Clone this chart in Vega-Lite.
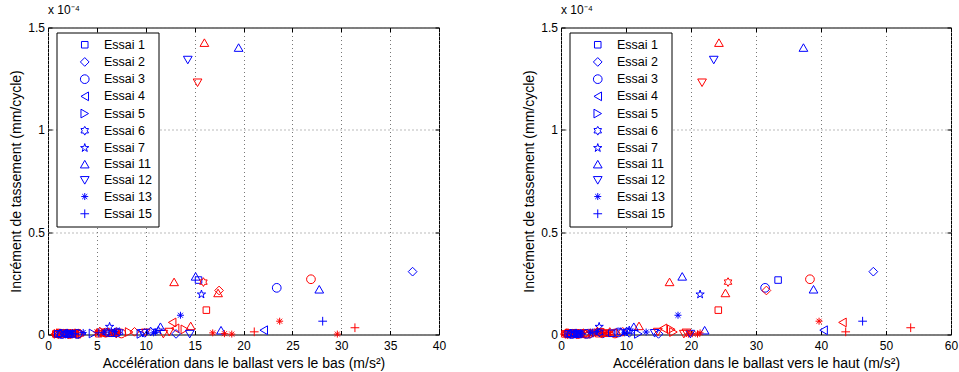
{
  "$schema": "https://vega.github.io/schema/vega-lite/v6.json",
  "padding": {"left": 9, "top": 2.5, "right": 5, "bottom": 0},
  "config": {
    "font": "Liberation Sans",
    "view": {"stroke": "black", "strokeWidth": 1},
    "concat": {"spacing": 75},
    "axis": {
      "grid": true, "gridColor": "#777", "gridDash": [1, 3], "gridWidth": 1,
      "domain": false, "ticks": true, "tickSize": -4, "tickColor": "black",
      "labelPadding": 7.5, "labelFontSize": 12, "labelColor": "black", "labelFlush": false,
      "titleFontSize": 14, "titleFontWeight": "normal", "titleColor": "black", "titlePadding": 4
    },
    "axisX": {"labelPadding": 9.5, "titlePadding": 5},
    "title": {"fontSize": 12, "fontWeight": "normal", "anchor": "start", "frame": "group", "offset": 5, "color": "black"}
  },
  "data": {"values": [
    {"e":"Essai 11","c":"r","bas":16.0,"haut":24.3,"y":1.426},
    {"e":"Essai 11","c":"b","bas":19.5,"haut":37.3,"y":1.402},
    {"e":"Essai 12","c":"b","bas":14.3,"haut":23.5,"y":1.341},
    {"e":"Essai 12","c":"r","bas":15.3,"haut":21.7,"y":1.23},
    {"e":"Essai 2","c":"b","bas":37.3,"haut":48.05,"y":0.307},
    {"e":"Essai 11","c":"b","bas":15.1,"haut":18.65,"y":0.284},
    {"e":"Essai 3","c":"r","bas":26.9,"haut":38.3,"y":0.27},
    {"e":"Essai 1","c":"b","bas":15.4,"haut":33.4,"y":0.266},
    {"e":"Essai 11","c":"r","bas":12.9,"haut":16.7,"y":0.257},
    {"e":"Essai 6","c":"r","bas":15.9,"haut":25.7,"y":0.256},
    {"e":"Essai 3","c":"b","bas":23.4,"haut":31.4,"y":0.228},
    {"e":"Essai 11","c":"b","bas":27.75,"haut":38.85,"y":0.221},
    {"e":"Essai 2","c":"r","bas":17.5,"haut":31.6,"y":0.215},
    {"e":"Essai 11","c":"r","bas":17.4,"haut":25.3,"y":0.203},
    {"e":"Essai 7","c":"b","bas":15.7,"haut":21.4,"y":0.196},
    {"e":"Essai 1","c":"r","bas":16.2,"haut":24.2,"y":0.119},
    {"e":"Essai 13","c":"b","bas":13.55,"haut":18.0,"y":0.094},
    {"e":"Essai 13","c":"r","bas":23.7,"haut":39.7,"y":0.065},
    {"e":"Essai 15","c":"b","bas":28.1,"haut":46.4,"y":0.065},
    {"e":"Essai 4","c":"r","bas":12.7,"haut":43.3,"y":0.059},
    {"e":"Essai 15","c":"r","bas":31.4,"haut":53.8,"y":0.033},
    {"e":"Essai 4","c":"b","bas":22.07,"haut":40.4,"y":0.021},
    {"e":"Essai 15","c":"r","bas":21.1,"haut":43.8,"y":0.013},
    {"e":"Essai 11","c":"b","bas":17.7,"haut":22.1,"y":0.021},
    {"e":"Essai 11","c":"r","bas":14.6,"haut":12.0,"y":0.042},
    {"e":"Essai 5","c":"r","bas":14.0,"haut":16.97,"y":0.025},
    {"e":"Essai 4","c":"r","bas":13.0,"haut":15.7,"y":0.03},
    {"e":"Essai 13","c":"r","bas":16.85,"haut":21.4,"y":0.008},
    {"e":"Essai 13","c":"r","bas":18.05,"haut":20.2,"y":0.004},
    {"e":"Essai 13","c":"r","bas":29.6,"haut":21.0,"y":0.002},
    {"e":"Essai 13","c":"r","bas":18.8,"haut":19.6,"y":0.002},
    {"e":"Essai 12","c":"b","bas":14.5,"haut":19.9,"y":0.002},
    {"e":"Essai 2","c":"b","bas":13.1,"haut":15.0,"y":0.003},
    {"e":"Essai 12","c":"b","bas":9.7,"haut":14.4,"y":0.006},
    {"e":"Essai 12","c":"r","bas":11.8,"haut":18.9,"y":0.002},
    {"e":"Essai 12","c":"r","bas":10.0,"haut":19.3,"y":0.008},
    {"e":"Essai 12","c":"r","bas":12.4,"haut":14.9,"y":0.012},
    {"e":"Essai 11","c":"b","bas":11.5,"haut":11.2,"y":0.038},
    {"e":"Essai 7","c":"b","bas":6.3,"haut":5.87,"y":0.038},
    {"e":"Essai 5","c":"r","bas":8.3,"haut":17.3,"y":0.012},
    {"e":"Essai 2","c":"r","bas":8.85,"haut":9.5,"y":0.013},
    {"e":"Essai 13","c":"b","bas":11.0,"haut":13.1,"y":0.012},
    {"e":"Essai 13","c":"b","bas":10.8,"haut":9.8,"y":0.008},
    {"e":"Essai 6","c":"b","bas":10.5,"haut":10.1,"y":0.015},
    {"e":"Essai 7","c":"b","bas":11.3,"haut":10.5,"y":0.02},
    {"e":"Essai 5","c":"b","bas":4.6,"haut":7.0,"y":0.005},
    {"e":"Essai 5","c":"b","bas":3.5,"haut":5.0,"y":0.003},
    {"e":"Essai 5","c":"b","bas":9.5,"haut":11.9,"y":0.003},
    {"e":"Essai 1","c":"r","bas":0.8,"haut":0.6,"y":0.003},
    {"e":"Essai 1","c":"r","bas":1.5,"haut":1.4,"y":0.004},
    {"e":"Essai 1","c":"r","bas":2.6,"haut":3.1,"y":0.005},
    {"e":"Essai 2","c":"r","bas":0.9,"haut":0.9,"y":0.004},
    {"e":"Essai 2","c":"r","bas":1.9,"haut":2.2,"y":0.006},
    {"e":"Essai 2","c":"r","bas":2.9,"haut":3.6,"y":0.003},
    {"e":"Essai 3","c":"r","bas":1.1,"haut":1.0,"y":0.005},
    {"e":"Essai 3","c":"r","bas":2.2,"haut":2.6,"y":0.002},
    {"e":"Essai 3","c":"r","bas":3.1,"haut":4.2,"y":0.004},
    {"e":"Essai 4","c":"r","bas":0.7,"haut":0.5,"y":0.002},
    {"e":"Essai 4","c":"r","bas":1.7,"haut":1.8,"y":0.003},
    {"e":"Essai 4","c":"r","bas":2.4,"haut":2.9,"y":0.006},
    {"e":"Essai 5","c":"r","bas":1.0,"haut":1.2,"y":0.003},
    {"e":"Essai 5","c":"r","bas":2.0,"haut":2.4,"y":0.004},
    {"e":"Essai 6","c":"r","bas":1.3,"haut":1.1,"y":0.006},
    {"e":"Essai 6","c":"r","bas":2.3,"haut":2.0,"y":0.005},
    {"e":"Essai 6","c":"r","bas":3.3,"haut":3.8,"y":0.003},
    {"e":"Essai 7","c":"r","bas":0.9,"haut":0.8,"y":0.007},
    {"e":"Essai 7","c":"r","bas":1.8,"haut":1.6,"y":0.004},
    {"e":"Essai 7","c":"r","bas":2.7,"haut":3.3,"y":0.002},
    {"e":"Essai 13","c":"r","bas":1.2,"haut":1.3,"y":0.004},
    {"e":"Essai 13","c":"r","bas":2.1,"haut":1.9,"y":0.005},
    {"e":"Essai 13","c":"r","bas":2.8,"haut":2.7,"y":0.006},
    {"e":"Essai 15","c":"r","bas":1.4,"haut":1.5,"y":0.003},
    {"e":"Essai 15","c":"r","bas":2.5,"haut":2.3,"y":0.004},
    {"e":"Essai 11","c":"r","bas":1.0,"haut":1.7,"y":0.006},
    {"e":"Essai 11","c":"r","bas":2.0,"haut":2.8,"y":0.004},
    {"e":"Essai 12","c":"r","bas":1.6,"haut":2.1,"y":0.005},
    {"e":"Essai 12","c":"r","bas":2.6,"haut":3.4,"y":0.003},
    {"e":"Essai 1","c":"b","bas":1.0,"haut":1.1,"y":0.003},
    {"e":"Essai 1","c":"b","bas":2.2,"haut":2.5,"y":0.002},
    {"e":"Essai 2","c":"b","bas":1.2,"haut":1.4,"y":0.004},
    {"e":"Essai 2","c":"b","bas":2.5,"haut":3.0,"y":0.003},
    {"e":"Essai 3","c":"b","bas":1.4,"haut":1.6,"y":0.002},
    {"e":"Essai 3","c":"b","bas":3.0,"haut":3.9,"y":0.003},
    {"e":"Essai 4","c":"b","bas":1.6,"haut":1.8,"y":0.004},
    {"e":"Essai 6","c":"b","bas":1.8,"haut":2.0,"y":0.003},
    {"e":"Essai 7","c":"b","bas":2.0,"haut":2.3,"y":0.004},
    {"e":"Essai 13","c":"b","bas":2.4,"haut":2.8,"y":0.005},
    {"e":"Essai 13","c":"b","bas":3.6,"haut":4.8,"y":0.01},
    {"e":"Essai 15","c":"b","bas":2.8,"haut":3.2,"y":0.003},
    {"e":"Essai 11","c":"b","bas":1.3,"haut":1.5,"y":0.008},
    {"e":"Essai 12","c":"b","bas":2.1,"haut":2.6,"y":0.002},
    {"e":"Essai 13","c":"r","bas":5.0,"haut":5.2,"y":0.012},
    {"e":"Essai 13","c":"r","bas":6.5,"haut":6.8,"y":0.008},
    {"e":"Essai 13","c":"r","bas":7.2,"haut":7.4,"y":0.01},
    {"e":"Essai 6","c":"r","bas":5.3,"haut":5.6,"y":0.015},
    {"e":"Essai 6","c":"r","bas":6.2,"haut":6.0,"y":0.01},
    {"e":"Essai 6","c":"r","bas":7.0,"haut":7.5,"y":0.012},
    {"e":"Essai 7","c":"r","bas":5.6,"haut":4.6,"y":0.006},
    {"e":"Essai 7","c":"r","bas":6.8,"haut":5.6,"y":0.008},
    {"e":"Essai 3","c":"r","bas":5.9,"haut":6.3,"y":0.009},
    {"e":"Essai 3","c":"r","bas":7.5,"haut":8.3,"y":0.005},
    {"e":"Essai 1","c":"r","bas":5.2,"haut":5.8,"y":0.004},
    {"e":"Essai 1","c":"r","bas":6.0,"haut":7.1,"y":0.006},
    {"e":"Essai 4","c":"r","bas":6.6,"haut":8.0,"y":0.007},
    {"e":"Essai 15","c":"r","bas":5.5,"haut":6.5,"y":0.01},
    {"e":"Essai 15","c":"r","bas":7.0,"haut":6.2,"y":0.004},
    {"e":"Essai 13","c":"b","bas":5.8,"haut":4.5,"y":0.012},
    {"e":"Essai 13","c":"b","bas":6.8,"haut":5.6,"y":0.015},
    {"e":"Essai 6","c":"b","bas":6.0,"haut":5.9,"y":0.01},
    {"e":"Essai 6","c":"b","bas":7.3,"haut":9.2,"y":0.012},
    {"e":"Essai 3","c":"b","bas":7.0,"haut":8.8,"y":0.01},
    {"e":"Essai 1","c":"b","bas":6.5,"haut":7.8,"y":0.006},
    {"e":"Essai 15","c":"b","bas":5.2,"haut":4.9,"y":0.008},
    {"e":"Essai 2","c":"b","bas":9.9,"haut":10.5,"y":0.008}
  ]},
  "hconcat": [
    {
      "width": 391, "height": 307,
      "title": {"text": "x 10⁻⁴"},
      "layer": [
        {
          "mark": {"type": "point", "filled": false, "size": 76, "strokeWidth": 1, "opacity": 1},
          "encoding": {
            "x": {"field": "bas", "type": "quantitative", "scale": {"domain": [0, 40], "nice": false, "zero": false},
                  "axis": {"values": [0, 5, 10, 15, 20, 25, 30, 35, 40], "title": "Accélération dans le ballast vers le bas (m/s²)"}},
            "y": {"field": "y", "type": "quantitative", "scale": {"domain": [0, 1.5], "nice": false},
                  "axis": {"values": [0, 0.5, 1, 1.5], "format": ".1~f", "title": "Incrément de tassement (mm/cycle)"}},
            "shape": {"field": "e", "type": "nominal",
              "scale": {"domain": ["Essai 1","Essai 2","Essai 3","Essai 4","Essai 5","Essai 6","Essai 7","Essai 11","Essai 12","Essai 13","Essai 15"],
                        "range": ["M-0.75,-0.75L0.75,-0.75L0.75,0.75L-0.75,0.75Z","diamond","circle","triangle-left","triangle-right",
                                  "M0,-1L0.289,-0.5L0.866,-0.5L0.577,0L0.866,0.5L0.289,0.5L0,1L-0.289,0.5L-0.866,0.5L-0.577,0L-0.866,-0.5L-0.289,-0.5Z",
                                  "M0,-1L0.225,-0.309L0.951,-0.309L0.363,0.118L0.588,0.809L0,0.382L-0.588,0.809L-0.363,0.118L-0.951,-0.309L-0.225,-0.309Z",
                                  "triangle-up","triangle-down",
                                  "M-0.8,0L0.8,0M0,-0.8L0,0.8M-0.57,-0.57L0.57,0.57M-0.57,0.57L0.57,-0.57",
                                  "M-1,0L1,0M0,-1L0,1"]},
              "legend": {"title": null, "orient": "none", "legendX": 8.5, "legendY": 5, "fillColor": "white", "strokeColor": "black",
                         "padding": 6, "symbolOffset": 16, "labelOffset": 13, "rowPadding": 3.2, "labelFontSize": 12.5, "labelColor": "black",
                         "symbolSize": 76, "symbolStrokeColor": "#0000ff", "symbolFillColor": "transparent", "symbolStrokeWidth": 1}},
            "color": {"field": "c", "type": "nominal", "scale": {"domain": ["b", "r"], "range": ["#0000ff", "#ff0000"]}, "legend": null}
          }
        },
        {
          "mark": {"type": "point", "opacity": 0},
          "encoding": {
            "x": {"field": "bas", "type": "quantitative", "axis": {"orient": "top", "values": [0, 5, 10, 15, 20, 25, 30, 35, 40], "labels": false, "title": null, "grid": false}},
            "y": {"field": "y", "type": "quantitative", "axis": {"orient": "right", "values": [0, 0.5, 1, 1.5], "labels": false, "title": null, "grid": false}}
          }
        }
      ],
      "resolve": {"axis": {"x": "independent", "y": "independent"}}
    },
    {
      "width": 390, "height": 307,
      "title": {"text": "x 10⁻⁴"},
      "layer": [
        {
          "mark": {"type": "point", "filled": false, "size": 76, "strokeWidth": 1, "opacity": 1},
          "encoding": {
            "x": {"field": "haut", "type": "quantitative", "scale": {"domain": [0, 60], "nice": false, "zero": false},
                  "axis": {"values": [0, 10, 20, 30, 40, 50, 60], "title": "Accélération dans le ballast vers le haut (m/s²)"}},
            "y": {"field": "y", "type": "quantitative", "scale": {"domain": [0, 1.5], "nice": false},
                  "axis": {"values": [0, 0.5, 1, 1.5], "format": ".1~f", "title": "Incrément de tassement (mm/cycle)"}},
            "shape": {"field": "e", "type": "nominal",
              "scale": {"domain": ["Essai 1","Essai 2","Essai 3","Essai 4","Essai 5","Essai 6","Essai 7","Essai 11","Essai 12","Essai 13","Essai 15"],
                        "range": ["M-0.75,-0.75L0.75,-0.75L0.75,0.75L-0.75,0.75Z","diamond","circle","triangle-left","triangle-right",
                                  "M0,-1L0.289,-0.5L0.866,-0.5L0.577,0L0.866,0.5L0.289,0.5L0,1L-0.289,0.5L-0.866,0.5L-0.577,0L-0.866,-0.5L-0.289,-0.5Z",
                                  "M0,-1L0.225,-0.309L0.951,-0.309L0.363,0.118L0.588,0.809L0,0.382L-0.588,0.809L-0.363,0.118L-0.951,-0.309L-0.225,-0.309Z",
                                  "triangle-up","triangle-down",
                                  "M-0.8,0L0.8,0M0,-0.8L0,0.8M-0.57,-0.57L0.57,0.57M-0.57,0.57L0.57,-0.57",
                                  "M-1,0L1,0M0,-1L0,1"]},
              "legend": {"title": null, "orient": "none", "legendX": 8.5, "legendY": 5, "fillColor": "white", "strokeColor": "black",
                         "padding": 6, "symbolOffset": 16, "labelOffset": 13, "rowPadding": 3.2, "labelFontSize": 12.5, "labelColor": "black",
                         "symbolSize": 76, "symbolStrokeColor": "#0000ff", "symbolFillColor": "transparent", "symbolStrokeWidth": 1}},
            "color": {"field": "c", "type": "nominal", "scale": {"domain": ["b", "r"], "range": ["#0000ff", "#ff0000"]}, "legend": null}
          }
        },
        {
          "mark": {"type": "point", "opacity": 0},
          "encoding": {
            "x": {"field": "haut", "type": "quantitative", "axis": {"orient": "top", "values": [0, 10, 20, 30, 40, 50, 60], "labels": false, "title": null, "grid": false}},
            "y": {"field": "y", "type": "quantitative", "axis": {"orient": "right", "values": [0, 0.5, 1, 1.5], "labels": false, "title": null, "grid": false}}
          }
        }
      ],
      "resolve": {"axis": {"x": "independent", "y": "independent"}}
    }
  ],
  "resolve": {"legend": {"shape": "independent"}, "scale": {"x": "independent"}}
}
